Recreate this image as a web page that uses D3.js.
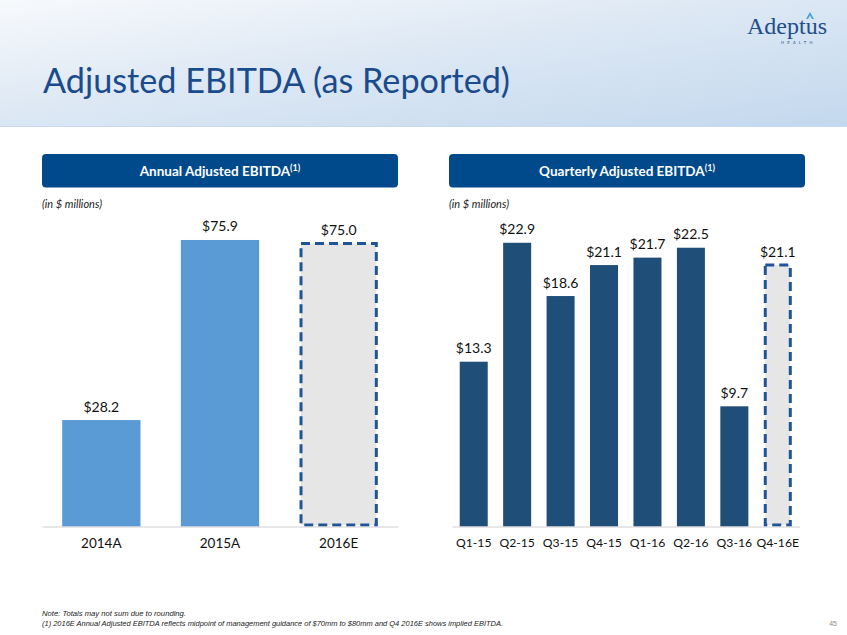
<!DOCTYPE html>
<html>
<head>
<meta charset="utf-8">
<script src="https://cdn.jsdelivr.net/npm/d3@7"></script>
<style>
html,body{margin:0;padding:0;background:#fff;}
svg{display:block;}
</style>
</head>
<body>
<svg id="chart" width="847" height="635"></svg>
<script>
// ---- data ----
const annualCategories = ["2014A", "2015A", "2016E"];
const annualValues = [28.2, 75.9, 75.0];
const annualEstimate = [false, false, true];

const quarterCategories = ["Q1-15", "Q2-15", "Q3-15", "Q4-15", "Q1-16", "Q2-16", "Q3-16", "Q4-16E"];
const quarterValues = [13.3, 22.9, 18.6, 21.1, 21.7, 22.5, 9.7, 21.1];
const quarterEstimate = [false, false, false, false, false, false, false, true];

const titleText = "Adjusted EBITDA (as Reported)";
const panelTitles = ["Annual Adjusted EBITDA", "Quarterly Adjusted EBITDA"];
const unitsText = "(in $ millions)";
const footnotes = [
  "Note: Totals may not sum due to rounding.",
  "(1) 2016E Annual Adjusted EBITDA reflects midpoint of management guidance of $70mm to $80mm and Q4 2016E shows implied EBITDA."
];
const pageNumber = "45";

// ---- drawing ----
const FONT = "Lato, 'Open Sans', sans-serif";
const svg = d3.select("#chart");
const defs = svg.append("defs");
const grad = defs.append("linearGradient").attr("id","hdr").attr("x1","0").attr("y1","0").attr("x2","1").attr("y2","1");
grad.append("stop").attr("offset","0").attr("stop-color","#f7f9fc");
grad.append("stop").attr("offset","0.45").attr("stop-color","#dde8f4");
grad.append("stop").attr("offset","1").attr("stop-color","#c3d8ee");

svg.append("rect").attr("x",0).attr("y",0).attr("width",847).attr("height",127).attr("fill","url(#hdr)");
svg.append("line").attr("x1",0).attr("x2",847).attr("y1",126.5).attr("y2",126.5).attr("stroke","#c6d9ee").attr("stroke-width",1);

svg.append("text").attr("x",43).attr("y",93)
  .attr("font-family",FONT).attr("font-size",35)
  .attr("fill","#1a4b8c").attr("textLength",467).attr("lengthAdjust","spacingAndGlyphs")
  .text(titleText);

// logo
const logo = svg.append("g");
logo.append("text").attr("x",747).attr("y",34)
  .attr("font-family","'Liberation Serif','DejaVu Serif',serif").attr("font-size",23)
  .attr("fill","#1f4e8c").attr("textLength",80).attr("lengthAdjust","spacingAndGlyphs").text("Adeptus");
logo.append("path").attr("d","M806,19 L810,12 L814,19 L812,19 L810,15.5 L808,19 Z").attr("fill","#4aa3df");
logo.append("text").attr("x",781).attr("y",44)
  .attr("font-family","'DejaVu Sans',sans-serif").attr("font-size",4).attr("letter-spacing",3.2)
  .attr("fill","#1f4e8c").text("HEALTH");

function panel(cfg){
  const g = svg.append("g");
  g.append("rect").attr("x",cfg.h0).attr("y",154).attr("width",cfg.h1-cfg.h0).attr("height",33.5)
    .attr("rx",4).attr("fill","#004a8c");
  const t = g.append("text").attr("x",(cfg.h0+cfg.h1)/2).attr("y",176)
    .attr("text-anchor","middle").attr("font-family",FONT)
    .attr("font-weight","bold").attr("font-size",13.5).attr("fill","#fff");
  t.append("tspan").text(cfg.title);
  t.append("tspan").attr("font-size",9).attr("dy",-5).text("(1)");
  g.append("text").attr("x",cfg.h0).attr("y",208).attr("font-family",FONT)
    .attr("font-style","italic").attr("font-size",11).attr("fill","#222").text(unitsText);

  const x = d3.scaleBand().domain(cfg.cats).range([cfg.x0, cfg.x1]).paddingInner(cfg.pad).paddingOuter(cfg.pad/2);
  const y = d3.scaleLinear().domain([0, cfg.max]).range([526.5, 526.5 - cfg.max*cfg.ppu]);

  const data = cfg.cats.map((c,i)=>({c, v:cfg.vals[i], e:cfg.est[i]}));
  g.selectAll("rect.bar").data(data).enter().append("rect").attr("class","bar")
    .attr("x",d=>x(d.c) + (d.e?1.5:0)).attr("width",d=>x.bandwidth() - (d.e?3:0))
    .attr("y",d=>y(d.v)).attr("height",d=>y(0)-y(d.v) - (d.e?1.5:0))
    .attr("fill",d=>d.e?"#e6e6e6":cfg.color)
    .attr("stroke",d=>d.e?"#1f5596":"none").attr("stroke-width",d=>d.e?3:0)
    .attr("stroke-dasharray",d=>d.e?"9,5":null);

  g.selectAll("text.val").data(data).enter().append("text").attr("class","val")
    .attr("x",d=>x(d.c)+x.bandwidth()/2).attr("y",d=>y(d.v)-8.5)
    .attr("text-anchor","middle").attr("font-family",FONT)
    .attr("font-size",14).attr("fill","#111").text(d=>"$"+d.v.toFixed(1));

  const axis = d3.axisBottom(x).tickSize(0).tickPadding(12);
  const ag = g.append("g").attr("transform","translate(0,526.5)").call(axis);
  ag.select(".domain").attr("stroke","#d0d0d0").attr("stroke-width",1.2);
  ag.selectAll("text").attr("font-family",FONT).attr("font-size",cfg.axisSize).attr("fill","#111");
}

panel({h0:42, h1:398, x0:42, x1:398, title:panelTitles[0], cats:annualCategories, vals:annualValues, est:annualEstimate,
  pad:0.34, max:80, ppu:3.775, color:"#5b9bd5", axisSize:13.5});
panel({h0:449, h1:805, x0:452, x1:799.5, title:panelTitles[1], cats:quarterCategories, vals:quarterValues, est:quarterEstimate,
  pad:0.355, max:25, ppu:12.39, color:"#1f4e79", axisSize:12.2});

// footnotes
svg.append("text").attr("x",42).attr("y",616).attr("font-family","'Liberation Sans Narrow','Liberation Sans',sans-serif")
  .attr("font-style","italic").attr("font-size",7).attr("fill","#222")
  .attr("textLength",144).attr("lengthAdjust","spacingAndGlyphs").text(footnotes[0]);
svg.append("text").attr("x",42).attr("y",626).attr("font-family","'Liberation Sans Narrow','Liberation Sans',sans-serif")
  .attr("font-style","italic").attr("font-size",7).attr("fill","#222")
  .attr("textLength",461).attr("lengthAdjust","spacingAndGlyphs").text(footnotes[1]);
svg.append("text").attr("x",837).attr("y",626).attr("text-anchor","end").attr("font-family","'Liberation Sans Narrow',sans-serif")
  .attr("font-size",7).attr("fill","#888").text(pageNumber);
</script>
</body>
</html>
